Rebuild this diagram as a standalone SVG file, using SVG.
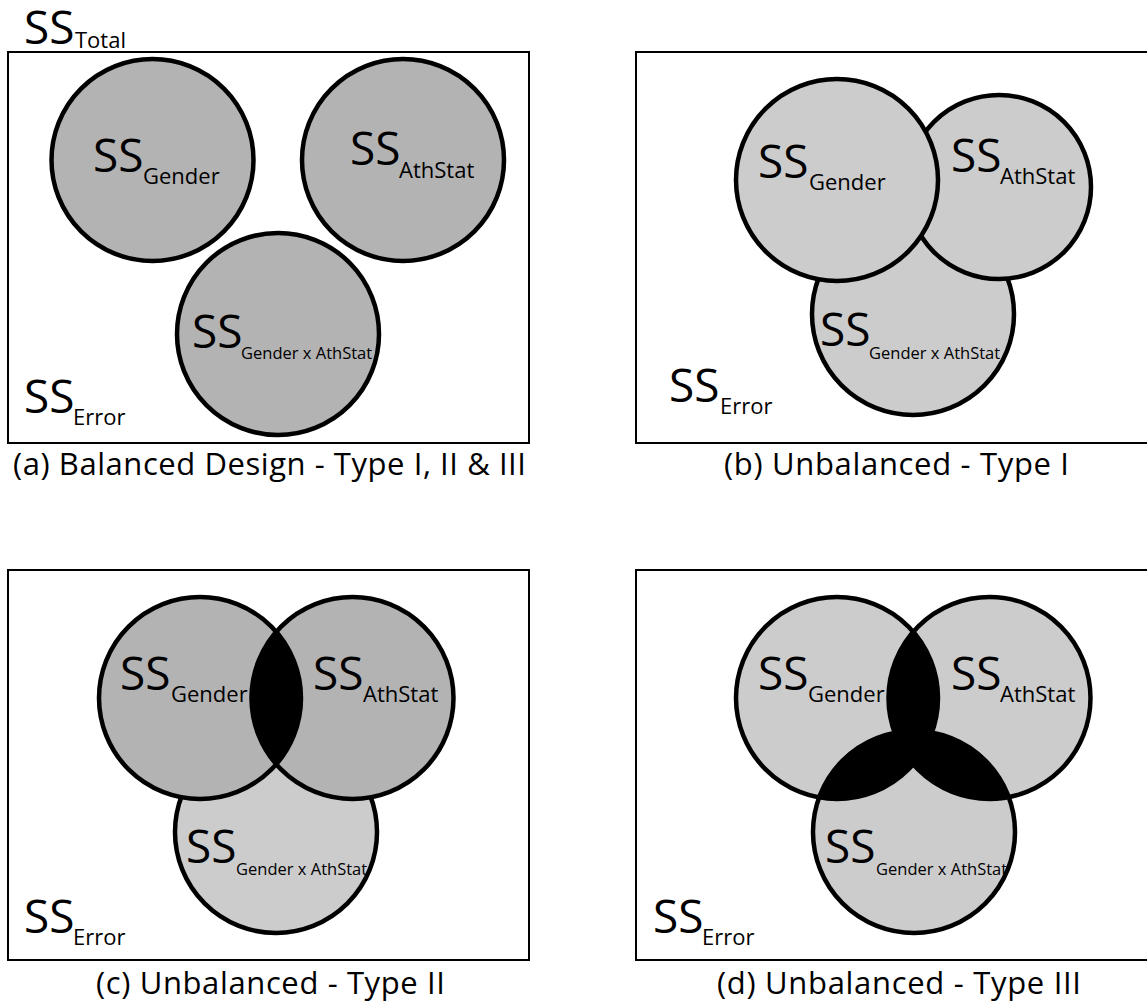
<svg xmlns="http://www.w3.org/2000/svg" width="1147" height="1005" viewBox="0 0 1147 1005">
<style>
text{font-family:"Open Sans","Noto Sans","Liberation Sans",sans-serif;fill:#000}
.ss{font-size:46px}
.sub{font-size:22px}
.subs{font-size:16.5px}
.cap{font-size:31px}
.frame{fill:#fff;stroke:#000;stroke-width:2}
.dk{fill:#b3b3b3;stroke:#000;stroke-width:4.5}
.lt{fill:#cccccc;stroke:#000;stroke-width:4.5}
.dkf{fill:#b3b3b3;stroke:none}
.ltf{fill:#cccccc;stroke:none}
.ol{fill:none;stroke:#000;stroke-width:4.5}
.blk{fill:#000;stroke:none}
</style>
<defs>
<clipPath id="cG_c"><circle cx="200" cy="698" r="101"/></clipPath>
<clipPath id="cG_d"><circle cx="837" cy="698" r="101"/></clipPath>
<clipPath id="cA_d"><circle cx="989.5" cy="698" r="101"/></clipPath>
</defs>
<rect width="1147" height="1005" fill="#fff"/>

<g id="panel-a">
<rect class="frame" x="8" y="52" width="521" height="391"/>
<text class="ss" x="24" y="44">SS<tspan class="sub" x="75" y="48">Total</tspan></text>
<g id="a-gender"><circle class="dk" cx="152.5" cy="160" r="101"/>
<text class="ss" x="93" y="172">SS<tspan class="sub" x="143" y="184">Gender</tspan></text></g>
<g id="a-athstat"><circle class="dk" cx="403" cy="160" r="101"/>
<text class="ss" x="350" y="165">SS<tspan class="sub" x="399" y="178">AthStat</tspan></text></g>
<g id="a-inter"><circle class="dk" cx="278" cy="334" r="101"/>
<text class="ss" x="192" y="348">SS<tspan class="subs" x="241" y="359">Gender x AthStat</tspan></text></g>
<text class="ss" x="24" y="413">SS<tspan class="sub" x="73" y="425">Error</tspan></text>
<text class="cap" x="269.5" y="475" text-anchor="middle" textLength="513" lengthAdjust="spacing">(a) Balanced Design - Type I, II &amp; III</text>
</g>

<g id="panel-b">
<rect class="frame" x="636" y="52" width="520" height="391"/>
<g id="b-inter"><circle class="lt" cx="913" cy="314" r="101"/></g>
<g id="b-athstat"><circle class="lt" cx="999" cy="187" r="92"/></g>
<g id="b-gender"><circle class="lt" cx="837" cy="180" r="101"/></g>
<text class="ss" x="758" y="178">SS<tspan class="sub" x="809" y="190">Gender</tspan></text>
<text class="ss" x="951" y="172">SS<tspan class="sub" x="1000" y="184">AthStat</tspan></text>
<text class="ss" x="820" y="346">SS<tspan class="subs" x="869" y="359">Gender x AthStat</tspan></text>
<text class="ss" x="669" y="402">SS<tspan class="sub" x="720" y="414">Error</tspan></text>
<text class="cap" x="896.5" y="475" text-anchor="middle" textLength="345" lengthAdjust="spacing">(b) Unbalanced - Type I</text>
</g>

<g id="panel-c">
<rect class="frame" x="8" y="570" width="521" height="390"/>
<g id="c-inter"><circle class="lt" cx="276" cy="832" r="101"/></g>
<g id="c-gender"><circle class="dkf" cx="200" cy="698" r="101"/></g>
<g id="c-athstat"><circle class="dkf" cx="352.5" cy="698" r="101"/></g>
<circle class="blk" cx="352.5" cy="698" r="101" clip-path="url(#cG_c)"/>
<circle class="ol" cx="200" cy="698" r="101"/>
<circle class="ol" cx="352.5" cy="698" r="101"/>
<text class="ss" x="120" y="690">SS<tspan class="sub" x="171" y="702">Gender</tspan></text>
<text class="ss" x="313" y="690">SS<tspan class="sub" x="363" y="702">AthStat</tspan></text>
<text class="ss" x="186" y="863">SS<tspan class="subs" x="236" y="875">Gender x AthStat</tspan></text>
<text class="ss" x="24" y="933">SS<tspan class="sub" x="73" y="945">Error</tspan></text>
<text class="cap" x="270.5" y="994" text-anchor="middle" textLength="349" lengthAdjust="spacing">(c) Unbalanced - Type II</text>
</g>

<g id="panel-d">
<rect class="frame" x="636" y="570" width="520" height="390"/>
<g id="d-inter"><circle class="ltf" cx="914" cy="832" r="101"/></g>
<g id="d-gender"><circle class="ltf" cx="837" cy="698" r="101"/></g>
<g id="d-athstat"><circle class="ltf" cx="989.5" cy="698" r="101"/></g>
<circle class="blk" cx="989.5" cy="698" r="101" clip-path="url(#cG_d)"/>
<circle class="blk" cx="914" cy="832" r="101" clip-path="url(#cG_d)"/>
<circle class="blk" cx="914" cy="832" r="101" clip-path="url(#cA_d)"/>
<circle class="ol" cx="914" cy="832" r="101"/>
<circle class="ol" cx="837" cy="698" r="101"/>
<circle class="ol" cx="989.5" cy="698" r="101"/>
<text class="ss" x="758" y="690">SS<tspan class="sub" x="808" y="702">Gender</tspan></text>
<text class="ss" x="951" y="690">SS<tspan class="sub" x="1000" y="702">AthStat</tspan></text>
<text class="ss" x="825" y="863">SS<tspan class="subs" x="876" y="875">Gender x AthStat</tspan></text>
<text class="ss" x="653" y="933">SS<tspan class="sub" x="702" y="945">Error</tspan></text>
<text class="cap" x="899" y="994" text-anchor="middle" textLength="364" lengthAdjust="spacing">(d) Unbalanced - Type III</text>
</g>
</svg>
